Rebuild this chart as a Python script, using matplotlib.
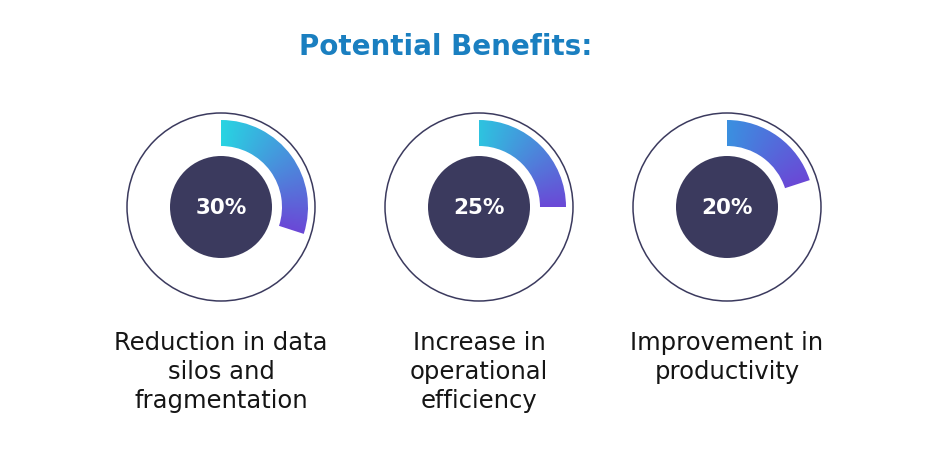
import matplotlib
matplotlib.use("Agg")
import matplotlib.pyplot as plt
import numpy as np
from matplotlib.colors import LinearSegmentedColormap
from matplotlib.patches import Circle, Wedge

# --- Data ---
TITLE = "Potential Benefits:"
percents = [30, 25, 20]
labels = [
    "Reduction in data\nsilos and\nfragmentation",
    "Increase in\noperational\nefficiency",
    "Improvement in\nproductivity",
]

# --- Style ---
W, H = 948, 451
centers_x = [221, 479, 727]
center_y = 207
R_OUTER, R_ARC_OUT, R_ARC_IN, R_DISC = 94, 87, 61, 51
DARK = "#3b3a5e"
TITLE_COLOR = "#1a7fc0"
arc_starts = ["#28d4e2", "#2ec3e0", "#3b90e0"]
arc_end = "#6b48d6"
FONT = ["DejaVu Sans"]

fig = plt.figure(figsize=(W / 100, H / 100), dpi=100)
ax = fig.add_axes([0, 0, 1, 1])
ax.set_xlim(0, W)
ax.set_ylim(H, 0)
ax.set_aspect("equal")
ax.axis("off")

ax.text(446, 47, TITLE, ha="center", va="center", fontsize=20,
        fontweight="bold", color=TITLE_COLOR, family=FONT)

# angle grid for the conic gradient (0 at 12 o'clock, clockwise)
yy, xx = np.mgrid[-R_ARC_OUT:R_ARC_OUT + 1, -R_ARC_OUT:R_ARC_OUT + 1]
theta = np.degrees(np.arctan2(xx, -yy)) % 360

for cx, pct, lab, c0 in zip(centers_x, percents, labels, arc_starts):
    ax.add_patch(Circle((cx, center_y), R_OUTER, fill=False, ec=DARK, lw=1.1))

    span = pct / 100 * 360
    cmap = LinearSegmentedColormap.from_list("arc", [c0, arc_end])
    wedge = Wedge((cx, center_y), R_ARC_OUT, -90, -90 + span,
                  width=R_ARC_OUT - R_ARC_IN, fc="none", lw=0)
    ax.add_patch(wedge)
    img = ax.imshow(np.clip(theta / span, 0, 1), cmap=cmap, vmin=0, vmax=1,
                    extent=(cx - R_ARC_OUT, cx + R_ARC_OUT + 1,
                            center_y + R_ARC_OUT + 1, center_y - R_ARC_OUT),
                    interpolation="bilinear", zorder=1)
    img.set_clip_path(wedge)

    ax.add_patch(Circle((cx, center_y), R_DISC, color=DARK, lw=0, zorder=2))
    ax.text(cx, center_y + 1, f"{pct}%", ha="center", va="center",
            fontsize=15.5, fontweight="bold", color="white", family=FONT, zorder=3)

    ax.text(cx, 331, lab, ha="center", va="top", fontsize=17.5,
            color="#151515", family=FONT, linespacing=1.27)

ax.set_xlim(0, W)
ax.set_ylim(H, 0)
fig.savefig("out.png", dpi=100, facecolor="white")
